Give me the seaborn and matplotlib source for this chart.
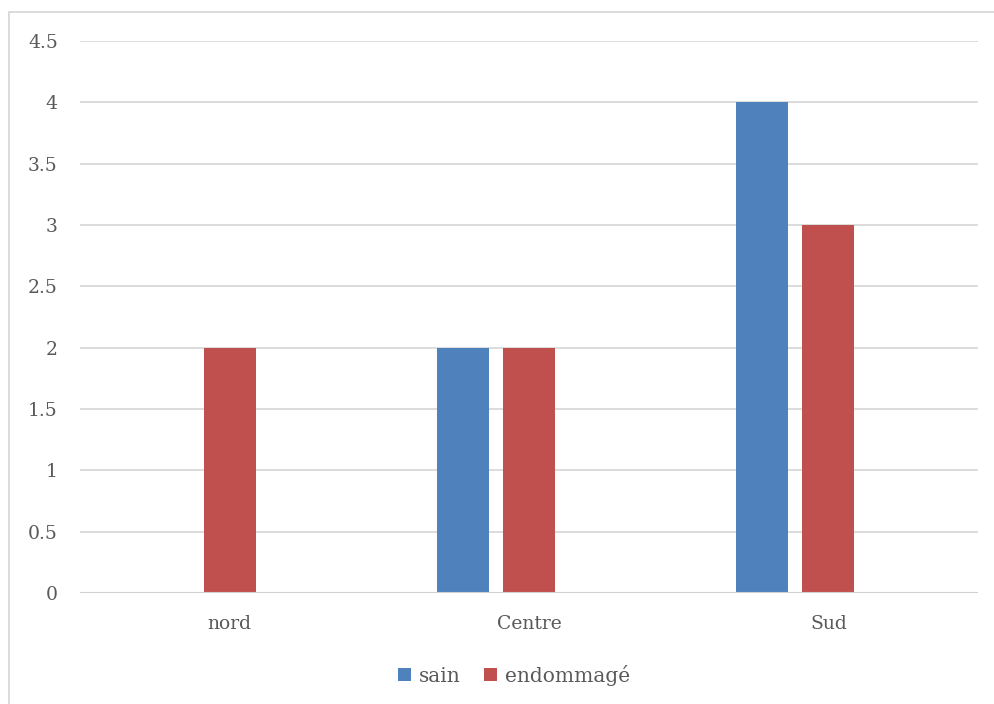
import matplotlib
matplotlib.use("Agg")
import matplotlib.pyplot as plt
from matplotlib.patches import Rectangle, Patch
from matplotlib.ticker import FixedLocator, FixedFormatter
import pandas as pd
import seaborn as sns

# Data
regions = ["nord", "Centre", "Sud"]
sain = [0, 2, 4]
endommage = [2, 2, 3]
series_names = ["sain", "endommagé"]
y_ticks = [0, 0.5, 1, 1.5, 2, 2.5, 3, 3.5, 4, 4.5]
y_tick_labels = ["0", "0.5", "1", "1.5", "2", "2.5", "3", "3.5", "4", "4.5"]

colors = {"sain": "#4F81BD", "endommagé": "#C0504D", "_vide": "#FFFFFF"}
text_color = "#595959"
grid_color = "#D9D9D9"

df = pd.DataFrame({
    "region": regions * 2,
    "serie": [series_names[0]] * 3 + [series_names[1]] * 3,
    "valeur": sain + endommage,
})

sns.set_theme(style="white")
plt.rcParams["font.family"] = ["DejaVu Serif"]

fig = plt.figure(figsize=(9.94, 7.04), dpi=100)
ax = fig.add_axes([80 / 994, 1 - 593 / 704, 898 / 994, 552 / 704])

sns.barplot(
    data=df, x="region", y="valeur", hue="serie",
    order=regions, hue_order=["sain", "endommagé", "_vide"],
    palette=colors, saturation=1, width=0.662, gap=0.21, linewidth=0,
    errorbar=None, legend=False, ax=ax, zorder=3,
)

ax.set_xlim(-0.5, 2.5)
ax.set_ylim(0, 4.5)
ax.yaxis.set_major_locator(FixedLocator(y_ticks))
ax.yaxis.set_major_formatter(FixedFormatter(y_tick_labels))
ax.set_xlabel("")
ax.set_ylabel("")

for y in y_ticks[1:]:
    ax.axhline(y, color=grid_color, linewidth=1.3, zorder=1)
ax.axhline(0, color="#D0D0D0", linewidth=1.5, zorder=4)

for side in ["top", "right", "left", "bottom"]:
    ax.spines[side].set_visible(False)

ax.tick_params(axis="y", length=0, pad=16, labelsize=13.5, labelcolor=text_color)
ax.tick_params(axis="x", length=0, pad=16, labelsize=13.5, labelcolor=text_color)

# Chart frame
fig.patches.append(Rectangle((9 / 994, -0.01), 1.0, 1 - 12 / 704 + 0.01,
                             transform=fig.transFigure, fill=False,
                             edgecolor="#D9D9D9", linewidth=1.3))

handles = [Patch(facecolor=colors[s], edgecolor="none") for s in series_names]
fig.legend(handles, series_names, loc="center", bbox_to_anchor=(514 / 994, 1 - 675 / 704),
           ncol=2, frameon=False, fontsize=14.5, labelcolor=text_color,
           handlelength=0.65, handleheight=0.65, handletextpad=0.35, columnspacing=1.2)

fig.savefig("out.png", dpi=100)
